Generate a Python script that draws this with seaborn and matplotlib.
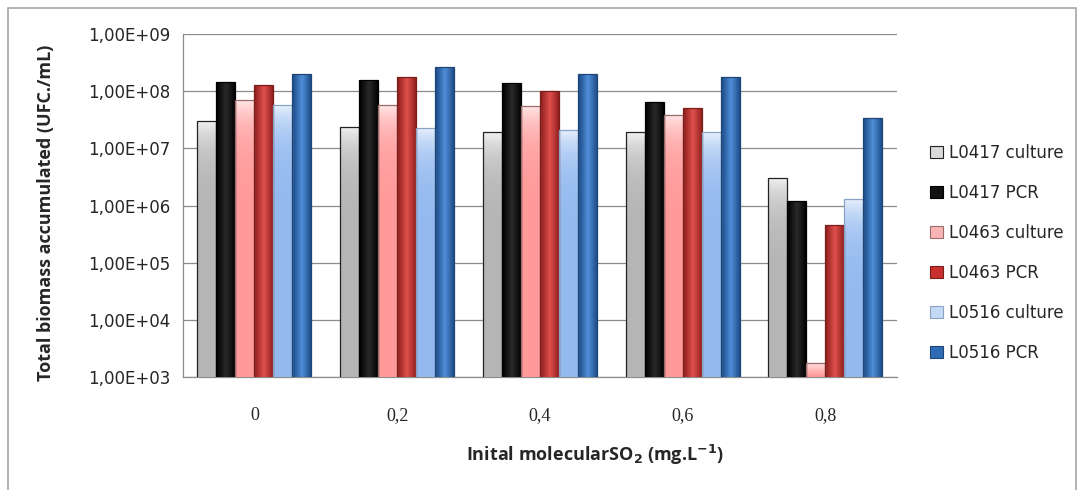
import pandas as pd
import numpy as np
import matplotlib
matplotlib.use('Agg')
import matplotlib.pyplot as plt
import seaborn as sns
from matplotlib.ticker import FixedLocator, FuncFormatter
from matplotlib.patches import Rectangle, Patch
from matplotlib.colors import LinearSegmentedColormap

# data (UFC/mL)
so2 = ["0", "0,2", "0,4", "0,6", "0,8"]
series = ["L0417 culture", "L0417 PCR", "L0463 culture", "L0463 PCR", "L0516 culture", "L0516 PCR"]
l0417_culture = [3.0e7, 2.4e7, 1.9e7, 1.9e7, 3.0e6]
l0417_pcr = [1.45e8, 1.6e8, 1.4e8, 6.5e7, 1.2e6]
l0463_culture = [6.9e7, 5.7e7, 5.5e7, 3.9e7, 1.76e3]
l0463_pcr = [1.3e8, 1.8e8, 1.0e8, 5.0e7, 4.6e5]
l0516_culture = [5.7e7, 2.3e7, 2.1e7, 1.9e7, 1.3e6]
l0516_pcr = [2.0e8, 2.6e8, 2.0e8, 1.8e8, 3.4e7]

colors = ["#d9d9d9", "#111111", "#f9b4b4", "#c8312f", "#c4d9f5", "#2f6cb6"]
edges = ["#222222", "#000000", "#9a6b6b", "#7a1d1b", "#8aa3c4", "#1d4677"]
# gradient stops: culture bars fade vertically, PCR bars are shaded across
grads = [("v", ["#b5b5b5", "#f2f2f2"]), ("h", ["#000000", "#2a2a2a", "#000000"]),
         ("v", ["#ff9a9a", "#ffe8e8"]), ("h", ["#8e1e1c", "#e0504c", "#8e1e1c"]),
         ("v", ["#93b9ef", "#eaf2fd"]), ("h", ["#1c4a86", "#4f8fd8", "#1c4a86"])]

values = [l0417_culture, l0417_pcr, l0463_culture, l0463_pcr, l0516_culture, l0516_pcr]
df = pd.DataFrame({
    "so2": so2 * len(series),
    "series": [s for s in series for _ in so2],
    "value": [v for vals in values for v in vals],
})

sns.set_style("white")
plt.rcParams['font.family'] = ['Open Sans', 'DejaVu Sans']

fig = plt.figure(figsize=(10.83, 4.9), dpi=100)
ax = fig.add_axes([0.169, 0.2306, 0.659, 0.70])
ax.set_yscale('log')

sns.barplot(data=df, x="so2", y="value", hue="series", order=so2, hue_order=series,
            palette=colors, width=0.8, ax=ax, legend=False, saturation=1)

for cont, ec, (mode, stops) in zip(ax.containers, edges, grads):
    cmap = LinearSegmentedColormap.from_list("g", stops)
    for p in cont:
        p.set_edgecolor(ec)
        p.set_linewidth(0.9)
        x0, w, h = p.get_x(), p.get_width(), p.get_height()
        if mode == "v":
            arr = np.linspace(1, 0, 64).reshape(-1, 1)
        else:
            arr = np.linspace(0, 1, 64).reshape(1, -1)
        im = ax.imshow(arr, extent=(x0, x0 + w, 1e3, h), aspect='auto', cmap=cmap,
                       interpolation='bilinear', zorder=3.1)
        im.set_clip_path(p)
        p.set_facecolor('none')
        p.set_zorder(3.2)

ax.set_ylim(1e3, 1e9)
ax.set_xlim(-0.5, 4.5)
ax.yaxis.set_major_locator(FixedLocator([10.0 ** k for k in range(3, 10)]))
ax.yaxis.set_minor_locator(FixedLocator([]))
ax.yaxis.set_major_formatter(FuncFormatter(lambda v, p: "1,00E+%02d" % round(np.log10(v))))
ax.grid(axis='y', color='#8c8c8c', linewidth=0.9)
ax.set_axisbelow(True)

for s in ['top', 'right']:
    ax.spines[s].set_visible(False)
for s in ['left', 'bottom']:
    ax.spines[s].set_color('#8c8c8c')
    ax.spines[s].set_linewidth(0.9)

ax.tick_params(axis='y', which='major', length=5, color='#8c8c8c', direction='out', pad=4,
               labelsize=12, labelfontfamily='DejaVu Sans')
ax.xaxis.set_minor_locator(FixedLocator([k - 0.5 for k in range(6)]))
ax.tick_params(axis='x', which='major', length=0, pad=21.5, labelsize=13,
               labelfontfamily='Liberation Serif')
ax.tick_params(axis='x', which='minor', length=5, color='#8c8c8c', direction='out')

ax.set_ylabel("Total biomass accumulated (UFC./mL)", fontsize=13, fontweight='bold')
ax.yaxis.set_label_coords(-0.179, 0.48)
ax.set_xlabel(r"Inital molecularSO$_{\mathbf{2}}$ (mg.L$^{\mathbf{-1}}$)", fontsize=13,
              fontweight='bold')
ax.xaxis.set_label_coords(0.577, -0.192)

handles = [Patch(facecolor=c, edgecolor=e, linewidth=0.8) for c, e in zip(colors, edges)]
fig.legend(handles, series, loc='upper left', bbox_to_anchor=(0.859, 0.707), frameon=False,
           prop={'family': 'DejaVu Sans', 'size': 12}, handlelength=0.75, handleheight=0.75,
           handletextpad=0.35, labelspacing=1.32, borderaxespad=0, borderpad=0)

fig.patches.append(Rectangle((8 / 1083, -0.01), 1068 / 1083, 1 - 8 / 490 + 0.01, transform=fig.transFigure,
                             fill=False, edgecolor='#a6a6a6', linewidth=1.2))

fig.savefig('out.png', dpi=100)
